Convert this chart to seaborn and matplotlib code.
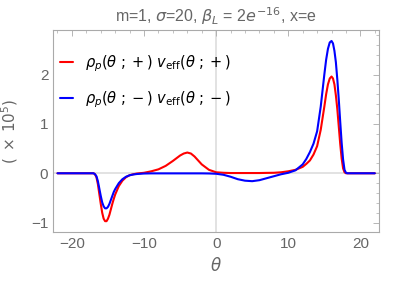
import numpy as np
import pandas as pd
import seaborn as sns
import matplotlib
import matplotlib.pyplot as plt
from matplotlib.ticker import MultipleLocator

# theta grid and curves (units of 1e-5)
theta = [-22, -17, -16.8, -16.6, -16.4, -16.2, -16, -15.8, -15.6, -15.4, -15.2, -15, -14.8,
         -14.6, -14.4, -14.2, -14, -13.5, -13, -12.5, -12, -11.5, -11, -10, -9, -8, -7, -6,
         -5, -4.5, -4, -3.5, -3, -2, -1, 0, 1, 2, 3, 4, 5, 6, 7, 8, 9, 10, 11, 12, 12.5, 13,
         13.5, 14, 14.5, 15, 15.25, 15.5, 15.75, 16, 16.2, 16.4, 16.6, 16.8, 17, 17.2, 17.4,
         17.6, 17.8, 18, 18.2, 22]
plus = [0, 0, -0.02, -0.08, -0.22, -0.42, -0.62, -0.8, -0.92, -0.97, -0.97, -0.92, -0.84,
        -0.73, -0.62, -0.52, -0.43, -0.26, -0.15, -0.08, -0.04, -0.02, -0.005, 0.01, 0.04,
        0.08, 0.15, 0.25, 0.36, 0.40, 0.42, 0.40, 0.34, 0.18, 0.07, 0.02, 0.01, 0.005, 0.005,
        0.005, 0.005, 0.005, 0.008, 0.01, 0.02, 0.04, 0.07, 0.13, 0.19, 0.26, 0.38, 0.55,
        0.88, 1.35, 1.6, 1.8, 1.92, 1.96, 1.92, 1.8, 1.58, 1.3, 0.95, 0.6, 0.3, 0.1, 0.02,
        0.0, 0.0, 0]
minus = [0, 0, -0.02, -0.06, -0.16, -0.31, -0.46, -0.59, -0.67, -0.71, -0.71, -0.68, -0.62,
         -0.54, -0.46, -0.38, -0.32, -0.2, -0.12, -0.07, -0.04, -0.025, -0.015, -0.005,
         -0.002, -0.002, -0.002, -0.002, -0.002, -0.002, -0.002, -0.002, -0.002, -0.002,
         -0.004, -0.01, -0.03, -0.07, -0.12, -0.15, -0.16, -0.14, -0.1, -0.06, -0.02, 0.01,
         0.06, 0.18, 0.29, 0.43, 0.6, 0.85, 1.35, 2.0, 2.3, 2.52, 2.65, 2.68, 2.63, 2.48,
         2.25, 1.9, 1.5, 1.05, 0.62, 0.28, 0.07, 0.01, 0.0, 0]

lab_p = r'$\rho_p(\theta\ ;+)\ v_{\rm eff}(\theta\ ;+)$'
lab_m = r'$\rho_p(\theta\ ;-)\ v_{\rm eff}(\theta\ ;-)$'

df = pd.concat([pd.DataFrame({'theta': theta, 'val': plus, 'series': lab_p}),
                pd.DataFrame({'theta': theta, 'val': minus, 'series': lab_m})])

sns.set_style('white')
plt.rcParams['font.family'] = ['Liberation Sans', 'DejaVu Sans']
plt.rcParams['mathtext.fontset'] = 'dejavusans'
gray = '#666666'

fig = plt.figure(figsize=(4.09, 2.84), dpi=100)
ax = fig.add_axes([0.13, 0.183, 0.797, 0.711])

ax.axhline(0, color='#dddddd', lw=1.2, zorder=0)
ax.axvline(0, color='#dddddd', lw=1.2, zorder=0)

sns.lineplot(data=df, x='theta', y='val', hue='series', palette=['#ff0000', '#0000ff'],
             linewidth=1.5, ax=ax, sort=False)

ax.set_xlim(-22.6, 22.6)
ax.set_ylim(-1.19, 2.9)
ax.xaxis.set_major_locator(MultipleLocator(10))
ax.xaxis.set_minor_locator(MultipleLocator(2))
ax.yaxis.set_major_locator(MultipleLocator(1))
ax.yaxis.set_minor_locator(MultipleLocator(0.2))
ax.tick_params(which='both', direction='in', top=True, right=True, colors='#aaaaaa',
               labelcolor=gray, labelsize=11)
ax.tick_params(which='major', length=4, width=0.6)
ax.tick_params(which='minor', length=2, width=0.5)
for s in ax.spines.values():
    s.set_color('#aaaaaa')
    s.set_linewidth(0.8)

ax.set_xlabel(r'$\theta$', color=gray, fontsize=12)
ax.set_ylabel(r'$(\ \times\,10^5)$', color=gray, fontsize=11, labelpad=8)
ax.set_title(r'm=1, $\sigma$=20, $\beta_L$ = 2$e^{-16}$, x=e', color=gray, fontsize=11.5, pad=6)

leg = ax.legend(loc='upper left', frameon=False, fontsize=10.5, handlelength=0.9,
                handletextpad=0.8, labelspacing=1.1, borderaxespad=0.2,
                bbox_to_anchor=(-0.005, 0.93))
for t in leg.get_texts():
    t.set_color('black')

fig.savefig('out.png', dpi=100)
